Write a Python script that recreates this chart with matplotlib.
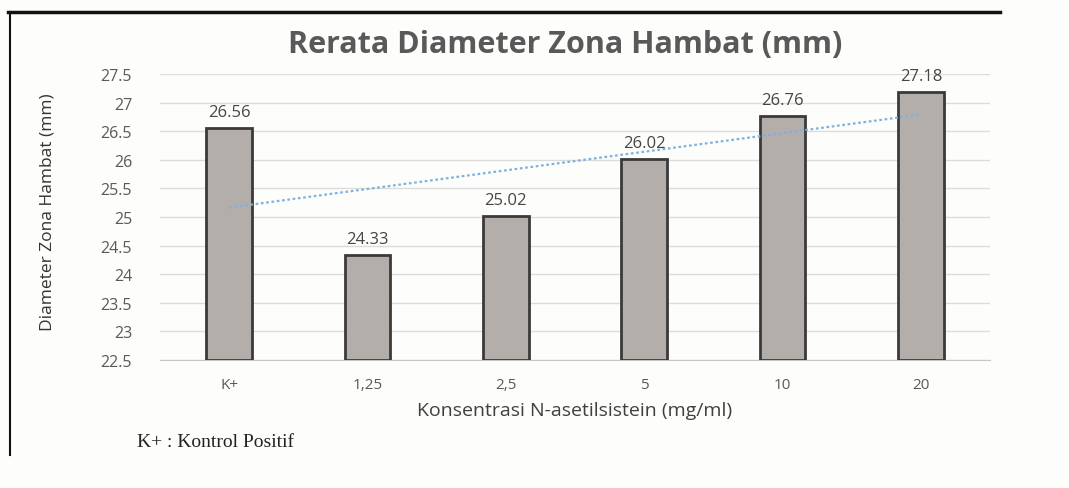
import numpy as np
import matplotlib
matplotlib.use("Agg")
import matplotlib.pyplot as plt
from matplotlib.lines import Line2D

kategori = ["K+", "1,25", "2,5", "5", "10", "20"]
diameter = [26.56, 24.33, 25.02, 26.02, 26.76, 27.18]
label_nilai = ["26.56", "24.33", "25.02", "26.02", "26.76", "27.18"]
yticks = [22.5, 23, 23.5, 24, 24.5, 25, 25.5, 26, 26.5, 27, 27.5]
ytick_label = ["22.5", "23", "23.5", "24", "24.5", "25", "25.5", "26", "26.5", "27", "27.5"]

W, H = 1069, 489
plt.rcParams["font.family"] = ["Open Sans", "DejaVu Sans"]
fig = plt.figure(figsize=(W / 100, H / 100), dpi=100)
fig.patch.set_facecolor("#fdfdfb")

# area plot in pixel
x0, x1, ytop, ybot = 160, 990, 75, 361
ax = fig.add_axes([x0 / W, 1 - ybot / H, (x1 - x0) / W, (ybot - ytop) / H])
ax.set_facecolor("#fdfdfb")

x = np.arange(len(kategori))
ax.bar(x, [d - 22.5 for d in diameter], bottom=22.5, width=0.33,
       color="#b3aeaa", edgecolor="#3a3a3a", linewidth=2, zorder=3)
for xi, d, t in zip(x, diameter, label_nilai):
    ax.text(xi, d + 0.14, t, ha="center", va="bottom", fontsize=12, color="#454545", zorder=4)

# garis tren linear
k, c = np.polyfit(x + 1, diameter, 1)
ax.plot(x, k * (x + 1) + c, ls=(0, (1.2, 1.2)), color="#7fb0e0", lw=1.6, zorder=5)

ax.set_xlim(-0.5, len(kategori) - 0.5)
ax.set_ylim(22.5, 27.5)
ax.set_yticks(yticks)
ax.set_yticklabels(ytick_label, fontsize=11.5, color="#595959")
ax.set_xticks(x)
ax.set_xticklabels(kategori, fontsize=11, color="#595959")
ax.tick_params(length=0, pad=12)
ax.tick_params(axis="y", pad=20)
ax.grid(axis="y", color="#dcdcdc", lw=1, zorder=0)
for s in ["top", "right", "left"]:
    ax.spines[s].set_visible(False)
ax.spines["bottom"].set_color("#c8c8c8")

ax.set_xlabel("Konsentrasi N-asetilsistein (mg/ml)", fontsize=14, color="#404040", labelpad=7)
fig.text(48 / W, 1 - 212 / H, "Diameter Zona Hambat (mm)", rotation=90, ha="center", va="center",
         fontsize=12.5, color="#333333", family=["Liberation Sans Narrow", "Open Sans", "DejaVu Sans"])
fig.text(565 / W, 1 - 45 / H, "Rerata Diameter Zona Hambat (mm)", ha="center", va="center",
         fontsize=22, fontweight="bold", color="#595959")
fig.text(137 / W, 1 - 443 / H, "K+ : Kontrol Positif", ha="left", va="center",
         fontsize=14, color="#222222", family=["Liberation Serif", "DejaVu Serif"])

# bingkai dokumen
fig.add_artist(Line2D([8 / W, 1000 / W], [1 - 13 / H, 1 - 13 / H], color="#111111", lw=2.5))
fig.add_artist(Line2D([10 / W, 10 / W], [1 - 13 / H, 1 - 456 / H], color="#111111", lw=1.5))

fig.savefig("out.png", dpi=100, facecolor=fig.get_facecolor())
